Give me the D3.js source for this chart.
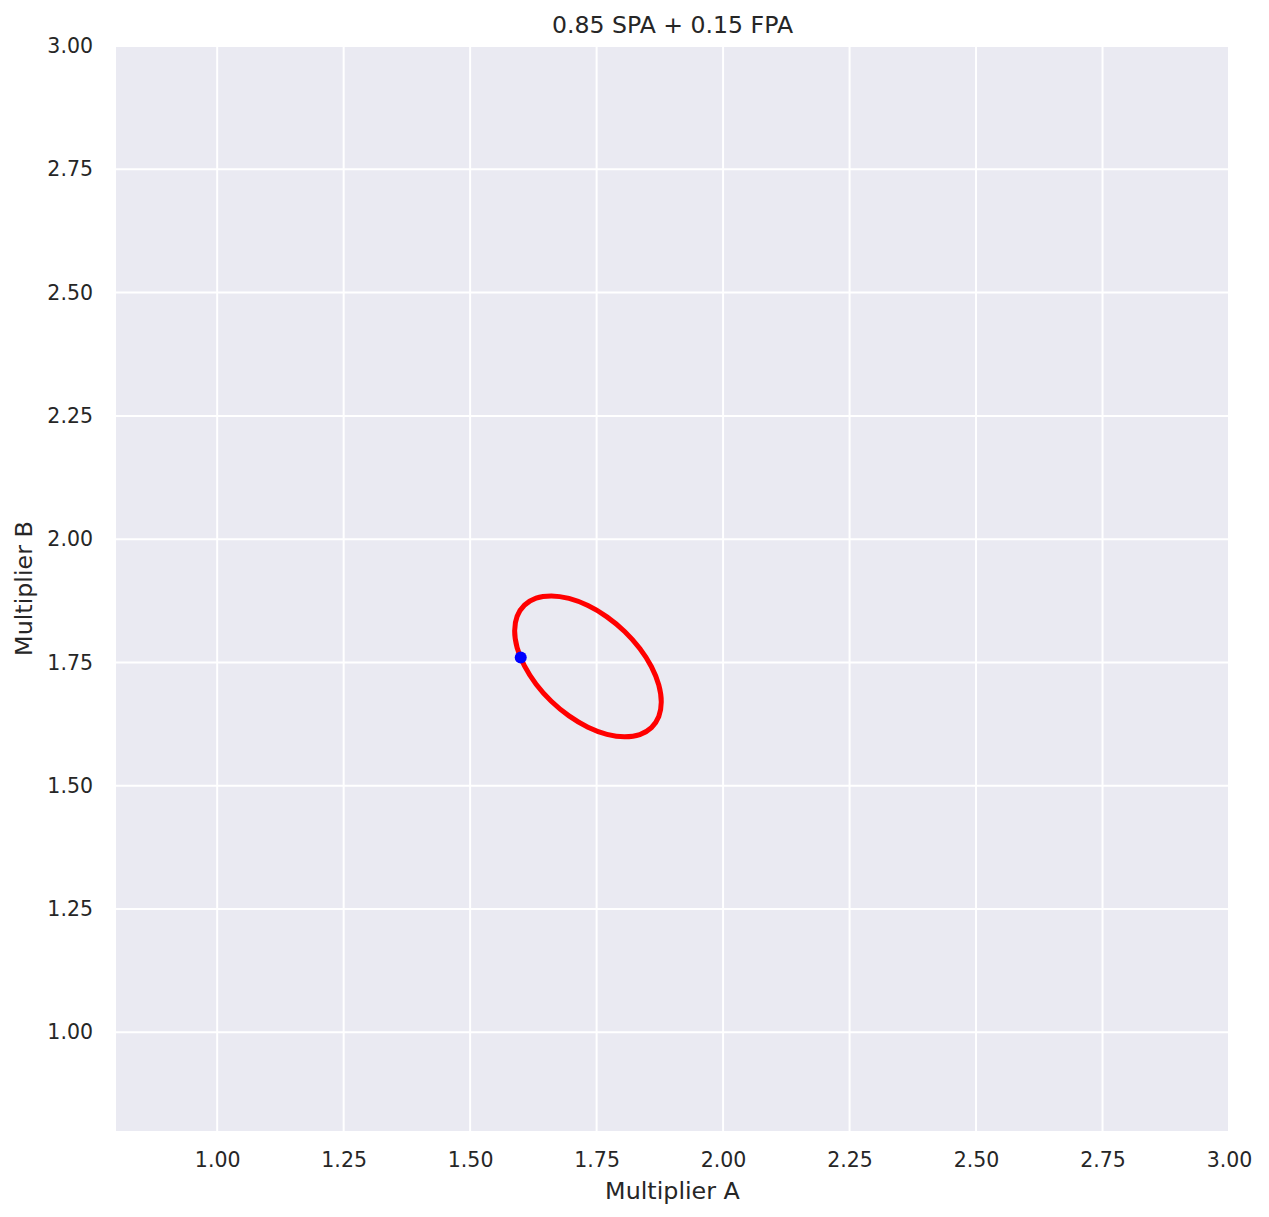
<!DOCTYPE html>
<html>
<head>
<meta charset="utf-8">
<script src="https://cdn.jsdelivr.net/npm/d3@7"></script>
<style>
  html, body { margin: 0; padding: 0; background: #ffffff; }
  svg { display: block; }
  text { font-family: "DejaVu Sans", sans-serif; fill: #262626; }
</style>
</head>
<body>
<svg id="chart" width="1269" height="1217"></svg>
<script>
// ---- data ----
const title = "0.85 SPA + 0.15 FPA";
const xLabel = "Multiplier A";
const yLabel = "Multiplier B";
const xDomain = [0.8, 3.0];
const yDomain = [0.8, 3.0];
const xTicks = [1.00, 1.25, 1.50, 1.75, 2.00, 2.25, 2.50, 2.75, 3.00];
const yTicks = [1.00, 1.25, 1.50, 1.75, 2.00, 2.25, 2.50, 2.75, 3.00];

// contour points (Multiplier A), estimated around the red curve
const contourA = [1.8778, 1.8729, 1.8584, 1.8354, 1.8054, 1.7704, 1.7329, 1.6954,
                  1.6604, 1.6304, 1.6074, 1.5929, 1.5880, 1.5929, 1.6074, 1.6304,
                  1.6604, 1.6954, 1.7329, 1.7704, 1.8054, 1.8354, 1.8584, 1.8729];
// contour points (Multiplier B)
const contourB = [1.6699, 1.6405, 1.6179, 1.6038, 1.5992, 1.6043, 1.6188, 1.6417,
                  1.6714, 1.7060, 1.7429, 1.7799, 1.8143, 1.8437, 1.8663, 1.8804,
                  1.8850, 1.8799, 1.8654, 1.8425, 1.8128, 1.7782, 1.7413, 1.7043];
// highlighted point
const pointA = [1.60];
const pointB = [1.76];

// ---- layout ----
const svg = d3.select("#chart");
const mLeft = 116, mRight = 1229, mTop = 46, mBottom = 1131;

const x = d3.scaleLinear().domain(xDomain).range([mLeft, mRight]);
const y = d3.scaleLinear().domain(yDomain).range([mBottom, mTop]);

// background
svg.append("rect")
  .attr("x", mLeft).attr("y", mTop)
  .attr("width", mRight - mLeft).attr("height", mBottom - mTop)
  .attr("fill", "#EAEAF2");

// grid
const grid = svg.append("g");
grid.selectAll("line.gx").data(xTicks).join("line")
  .attr("class", "gx")
  .attr("x1", d => x(d)).attr("x2", d => x(d))
  .attr("y1", mTop).attr("y2", mBottom)
  .attr("stroke", "#ffffff").attr("stroke-width", 2);
grid.selectAll("line.gy").data(yTicks).join("line")
  .attr("class", "gy")
  .attr("y1", d => y(d)).attr("y2", d => y(d))
  .attr("x1", mLeft).attr("x2", mRight)
  .attr("stroke", "#ffffff").attr("stroke-width", 2);

// axes (labels only, no spines / tick marks)
const fmt = d3.format(".2f");
const xAxis = svg.append("g")
  .attr("transform", `translate(0,${mBottom})`)
  .call(d3.axisBottom(x).tickValues(xTicks).tickFormat(fmt).tickSize(0).tickPadding(21));
const yAxis = svg.append("g")
  .attr("transform", `translate(${mLeft},0)`)
  .call(d3.axisLeft(y).tickValues(yTicks).tickFormat(fmt).tickSize(0).tickPadding(23));
[xAxis, yAxis].forEach(g => {
  g.select(".domain").remove();
  g.selectAll("text")
    .attr("font-family", "DejaVu Sans, sans-serif")
    .attr("font-size", 20.5)
    .attr("fill", "#262626");
});

// contour
const pts = contourA.map((a, i) => [a, contourB[i]]);
const line = d3.line()
  .x(d => x(d[0])).y(d => y(d[1]))
  .curve(d3.curveCatmullRomClosed.alpha(0.5));
svg.append("path")
  .datum(pts)
  .attr("d", line)
  .attr("fill", "none")
  .attr("stroke", "#ff0000")
  .attr("stroke-width", 5)
  .attr("stroke-linejoin", "round");

// point
svg.selectAll("circle.pt").data(pointA.map((a, i) => [a, pointB[i]])).join("circle")
  .attr("class", "pt")
  .attr("cx", d => x(d[0])).attr("cy", d => y(d[1]))
  .attr("r", 6)
  .attr("fill", "#0000ff");

// title & axis labels
svg.append("text")
  .attr("x", (mLeft + mRight) / 2).attr("y", 33)
  .attr("text-anchor", "middle")
  .attr("font-size", 23.6)
  .text(title);
svg.append("text")
  .attr("x", (mLeft + mRight) / 2).attr("y", 1199)
  .attr("text-anchor", "middle")
  .attr("font-size", 23.8)
  .text(xLabel);
svg.append("text")
  .attr("transform", `translate(32,${(mTop + mBottom) / 2}) rotate(-90)`)
  .attr("text-anchor", "middle")
  .attr("font-size", 23.8)
  .text(yLabel);
</script>
</body>
</html>
